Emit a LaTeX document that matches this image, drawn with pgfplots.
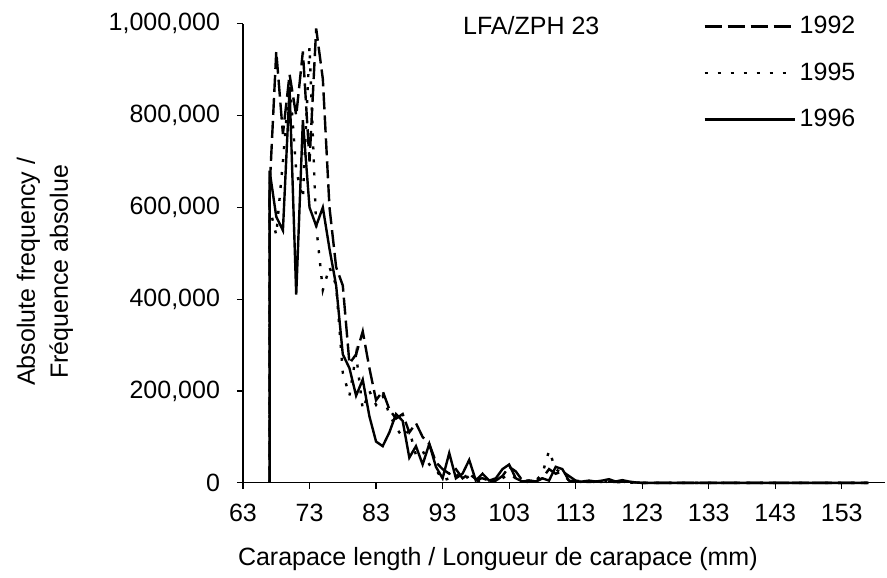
\documentclass[border=0pt]{standalone}
\usepackage{fontspec}
\setmainfont{Liberation Sans}
\usepackage{pgfplots}
\usepackage{pgfplotstable}
\pgfplotsset{compat=1.18}

% carapace length (mm) vs absolute frequency, LFA/ZPH 23
\pgfplotstableread{
len y92 y95 y96
67 0 0 0
67 640000 600000 680000
68 940000 540000 580000
69 760000 700000 550000
70 890000 880000 860000
71 800000 680000 410000
72 940000 620000 790000
73 700000 950000 600000
74 990000 560000 560000
75 880000 420000 600000
76 600000 470000 510000
77 470000 430000 430000
78 430000 240000 280000
79 260000 190000 250000
80 280000 280000 190000
81 330000 160000 225000
82 250000 200000 145000
83 180000 170000 90000
84 200000 190000 80000
85 160000 150000 110000
86 140000 120000 150000
87 150000 100000 135000
88 110000 115000 55000
89 130000 60000 80000
90 100000 70000 40000
91 85000 40000 85000
92 45000 30000 35000
93 30000 5000 10000
94 20000 10000 65000
95 30000 20000 10000
96 10000 5000 20000
97 20000 15000 50000
98 8000 5000 5000
99 10000 5000 20000
100 5000 3000 5000
101 5000 5000 10000
102 15000 10000 30000
103 35000 20000 40000
104 25000 10000 10000
105 5000 3000 3000
106 5000 2000 5000
107 3000 5000 3000
108 10000 20000 10000
109 30000 70000 5000
110 20000 30000 35000
111 25000 20000 30000
112 15000 5000 5000
113 5000 3000 3000
114 3000 2000 3000
115 2000 3000 5000
116 3000 2000 3000
117 2000 3000 5000
118 3000 2000 8000
119 2000 1000 3000
120 3000 2000 6000
121 1000 1000 3000
122 1000 0 1000
123 0 0 0
157 0 0 0
}\lendata

\begin{document}
\begin{tikzpicture}
\begin{axis}[
    scale only axis,
    width=321pt, height=229.5pt,
    xmin=63, xmax=159.5,
    ymin=0, ymax=1000000,
    xtick={63,73,...,153},
    ytick={0,200000,...,1000000},
    scaled y ticks=false,
    yticklabel style={xshift=-5pt, /pgf/number format/.cd, fixed, 1000 sep={,}},
    /pgf/number format/assume math mode=true,
    axis lines*=left,
    axis line style={line width=0.6pt},
    tick align=outside,
    major tick length=3pt,
    tick style={black, line width=0.6pt},
    tick label style={font=\fontsize{12.5}{14}\selectfont},
    xticklabel style={yshift=-4pt},
    label style={font=\fontsize{12.5}{16.5}\selectfont},
    xlabel={Carapace length / Longueur de carapace (mm)},
    xlabel style={at={(ticklabel cs:0.397)}, yshift=-6pt},
    ylabel={Absolute frequency /\\Fréquence absolue},
    ylabel style={align=center, at={(ticklabel cs:0.46)}, yshift=11pt},
    clip=false,
    legend style={draw=none, fill=none, at={(0.707,1.035)}, anchor=north west,
        font=\fontsize{12.5}{14}\selectfont, row sep=9pt},
    legend cell align=left,
    legend image code/.code={\draw[#1] (0pt,0pt) -- (45pt,0pt);},
    every axis plot/.append style={black, line width=1.2pt},
]
\addplot[dash pattern=on 8.5pt off 3pt] table[x=len, y=y92] {\lendata};
\addplot[dash pattern=on 1.5pt off 5pt] table[x=len, y=y95] {\lendata};
\addplot[solid] table[x=len, y=y96] {\lendata};
\legend{1992, 1995, 1996}
\node[font=\fontsize{12.5}{14}\selectfont] at (rel axis cs:0.449,0.996) {LFA/ZPH 23};
\coordinate (bl) at (rel axis cs:-0.3785,-0.198);
\coordinate (tr) at (rel axis cs:1.0031,1.052);
\end{axis}
\path (bl) rectangle (tr);
\end{tikzpicture}
\end{document}
